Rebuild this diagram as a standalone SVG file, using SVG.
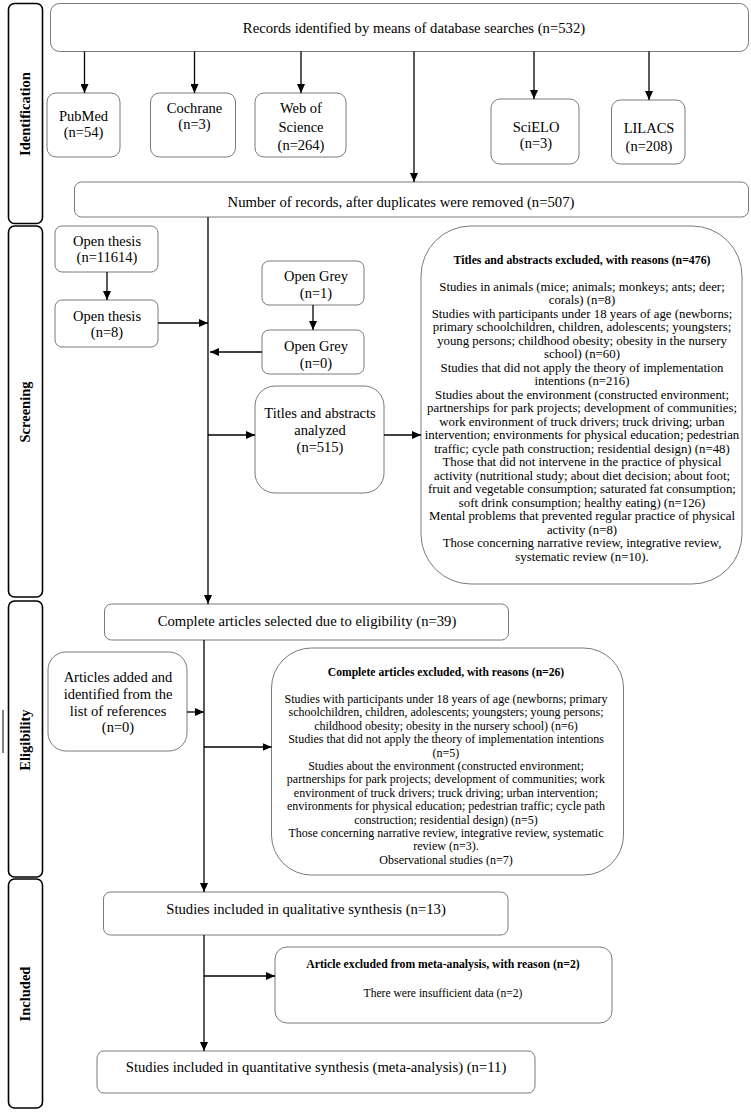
<svg xmlns="http://www.w3.org/2000/svg" width="751" height="1113" viewBox="0 0 751 1113">
<defs>
<marker id="ah" markerWidth="9" markerHeight="8" refX="9" refY="4" orient="auto" markerUnits="userSpaceOnUse">
<path d="M0,0 L9,4 L0,8 z" fill="#000"/>
</marker>
<style>
.bx{fill:#fff;stroke:#7a7a7a;stroke-width:1}
.side{fill:#fff;stroke:#000;stroke-width:1.6}
.t{font-family:"Liberation Serif","Times New Roman",serif;font-size:14.5px;fill:#000;text-anchor:middle}
.m{font-family:"Liberation Serif","Times New Roman",serif;font-size:14.7px;fill:#000;text-anchor:middle}
.s{font-family:"Liberation Serif","Times New Roman",serif;font-size:12.8px;fill:#000;text-anchor:middle}
.sb{font-family:"Liberation Serif","Times New Roman",serif;font-size:11.8px;font-weight:bold;fill:#000;text-anchor:middle}
.e{font-family:"Liberation Serif","Times New Roman",serif;font-size:12px;fill:#000;text-anchor:middle}
.eb{font-family:"Liberation Serif","Times New Roman",serif;font-size:11.6px;font-weight:bold;fill:#000;text-anchor:middle}
.mb{font-family:"Liberation Serif","Times New Roman",serif;font-size:11.7px;font-weight:bold;fill:#000;text-anchor:middle}
.me{font-family:"Liberation Serif","Times New Roman",serif;font-size:11.6px;fill:#000;text-anchor:middle}
.lab{font-family:"Liberation Serif","Times New Roman",serif;font-size:14.5px;font-weight:bold;fill:#000;text-anchor:middle}
.ca{stroke:#000;stroke-width:1.3;fill:none;marker-end:url(#ah)}
</style>
</defs>
<rect width="751" height="1113" fill="#fff"/>

<g id="lane-identification">
<rect class="side" x="8.5" y="3.5" width="34" height="220" rx="6"/>
<text class="lab" transform="translate(30,114) rotate(-90)">Identification</text>
</g>
<g id="lane-screening">
<rect class="side" x="8.5" y="226" width="34" height="371" rx="6"/>
<text class="lab" transform="translate(30,412) rotate(-90)">Screening</text>
</g>
<g id="lane-eligibility">
<rect class="side" x="8.5" y="601" width="34" height="276" rx="6"/>
<text class="lab" transform="translate(30,740) rotate(-90)">Eligibility</text>
<line x1="3" y1="710" x2="3" y2="753" stroke="#000" stroke-width="1"/>
</g>
<g id="lane-included">
<rect class="side" x="8.5" y="879" width="34" height="229" rx="6"/>
<text class="lab" transform="translate(30,994) rotate(-90)">Included</text>
</g>

<g id="records">
<rect class="bx" x="50.5" y="3.5" width="698" height="48" rx="9"/>
<text class="m" x="414" y="33">Records identified by means of database searches (n=532)</text>
</g>
<g id="pubmed">
<rect class="bx" x="47" y="93" width="73" height="64" rx="9"/>
<text class="t" x="83.5" y="121">PubMed</text>
<text class="t" x="83.5" y="137">(n=54)</text>
</g>
<g id="cochrane">
<rect class="bx" x="150.5" y="93" width="85" height="64" rx="9"/>
<text class="t" x="194.5" y="113">Cochrane</text>
<text class="t" x="194.5" y="129">(n=3)</text>
</g>
<g id="wos">
<rect class="bx" x="255" y="93" width="91" height="64" rx="9"/>
<text class="t" x="301" y="113">Web of</text>
<text class="t" x="301" y="131.5">Science</text>
<text class="t" x="301" y="150">(n=264)</text>
</g>
<g id="scielo">
<rect class="bx" x="491" y="99" width="88" height="65" rx="9"/>
<text class="t" x="536" y="132">SciELO</text>
<text class="t" x="536" y="148">(n=3)</text>
</g>
<g id="lilacs">
<rect class="bx" x="611.5" y="100" width="73.5" height="64" rx="9"/>
<text class="t" x="649" y="133">LILACS</text>
<text class="t" x="649" y="151">(n=208)</text>
</g>
<g id="dedup">
<rect class="bx" x="74.5" y="182" width="674" height="35" rx="7"/>
<text class="m" x="401" y="207">Number of records, after duplicates were removed (n=507)</text>
</g>

<g id="thesis1">
<rect class="bx" x="55" y="226" width="103" height="46" rx="7"/>
<text class="t" x="107" y="246">Open thesis</text>
<text class="t" x="107" y="262">(n=11614)</text>
</g>
<g id="thesis2">
<rect class="bx" x="55" y="300" width="103" height="47" rx="7"/>
<text class="t" x="107" y="321">Open thesis</text>
<text class="t" x="107" y="337">(n=8)</text>
</g>
<g id="grey1">
<rect class="bx" x="262" y="261" width="102" height="44" rx="7"/>
<text class="t" x="316" y="281">Open Grey</text>
<text class="t" x="316" y="298">(n=1)</text>
</g>
<g id="grey0">
<rect class="bx" x="262" y="330" width="102" height="44" rx="7"/>
<text class="t" x="316" y="351">Open Grey</text>
<text class="t" x="316" y="368">(n=0)</text>
</g>
<g id="titles-analyzed">
<rect class="bx" x="255" y="386" width="129" height="107" rx="20"/>
<text class="t" x="320" y="418">Titles and abstracts</text>
<text class="t" x="320" y="435">analyzed</text>
<text class="t" x="320" y="452">(n=515)</text>
</g>
<g id="titles-excluded">
<rect class="bx" x="421" y="226" width="321" height="358" rx="50"/>
<text class="sb" x="582" y="264">Titles and abstracts excluded, with reasons (n=476)</text>
<text class="s" x="582" y="290.5">Studies in animals (mice; animals; monkeys; ants; deer;</text>
<text class="s" x="582" y="304">corals) (n=8)</text>
<text class="s" x="582" y="317.5">Studies with participants under 18 years of age (newborns;</text>
<text class="s" x="582" y="331">primary schoolchildren, children, adolescents; youngsters;</text>
<text class="s" x="582" y="344.5">young persons; childhood obesity; obesity in the nursery</text>
<text class="s" x="582" y="358">school) (n=60)</text>
<text class="s" x="582" y="371.5">Studies that did not apply the theory of implementation</text>
<text class="s" x="582" y="385">intentions (n=216)</text>
<text class="s" x="582" y="398.5">Studies about the environment (constructed environment;</text>
<text class="s" x="582" y="412">partnerships for park projects; development of communities;</text>
<text class="s" x="582" y="425.5">work environment of truck drivers; truck driving; urban</text>
<text class="s" x="582" y="439">intervention; environments for physical education; pedestrian</text>
<text class="s" x="582" y="452.5">traffic; cycle path construction; residential design) (n=48)</text>
<text class="s" x="582" y="466">Those that did not intervene in the practice of physical</text>
<text class="s" x="582" y="479.5">activity (nutritional study; about diet decision; about foot;</text>
<text class="s" x="582" y="493">fruit and vegetable consumption; saturated fat consumption;</text>
<text class="s" x="582" y="506.5">soft drink consumption; healthy eating) (n=126)</text>
<text class="s" x="582" y="520">Mental problems that prevented regular practice of physical</text>
<text class="s" x="582" y="533.5">activity (n=8)</text>
<text class="s" x="582" y="547">Those concerning narrative review, integrative review,</text>
<text class="s" x="582" y="560.5">systematic review (n=10).</text>
</g>

<g id="complete-selected">
<rect class="bx" x="104.5" y="604" width="404" height="36" rx="7"/>
<text class="m" x="307" y="626">Complete articles selected due to eligibility (n=39)</text>
</g>
<g id="articles-added">
<rect class="bx" x="48" y="652" width="139" height="99" rx="18"/>
<text class="t" x="118" y="682">Articles added and</text>
<text class="t" x="118" y="699">identified from the</text>
<text class="t" x="118" y="716">list of references</text>
<text class="t" x="118" y="732">(n=0)</text>
</g>
<g id="complete-excluded">
<rect class="bx" x="271.5" y="648" width="352" height="227" rx="40"/>
<text class="eb" x="446" y="676">Complete articles excluded, with reasons (n=26)</text>
<text class="e" x="446" y="703">Studies with participants under 18 years of age (newborns; primary</text>
<text class="e" x="446" y="716.4">schoolchildren, children, adolescents; youngsters; young persons;</text>
<text class="e" x="446" y="729.8">childhood obesity; obesity in the nursery school) (n=6)</text>
<text class="e" x="446" y="743.2">Studies that did not apply the theory of implementation intentions</text>
<text class="e" x="446" y="756.6">(n=5)</text>
<text class="e" x="446" y="770">Studies about the environment (constructed environment;</text>
<text class="e" x="446" y="783.4">partnerships for park projects; development of communities; work</text>
<text class="e" x="446" y="796.8">environment of truck drivers; truck driving; urban intervention;</text>
<text class="e" x="446" y="810.2">environments for physical education; pedestrian traffic; cycle path</text>
<text class="e" x="446" y="823.6">construction; residential design) (n=5)</text>
<text class="e" x="446" y="837">Those concerning narrative review, integrative review, systematic</text>
<text class="e" x="446" y="850.4">review (n=3).</text>
<text class="e" x="446" y="863.8">Observational studies (n=7)</text>
</g>

<g id="qualitative">
<rect class="bx" x="103.5" y="892" width="404.5" height="43" rx="7"/>
<text class="m" x="306" y="914">Studies included in qualitative synthesis (n=13)</text>
</g>
<g id="meta-excluded">
<rect class="bx" x="275" y="947" width="337" height="76" rx="12"/>
<text class="mb" x="443" y="968">Article excluded from meta-analysis, with reason (n=2)</text>
<text class="me" x="443" y="997">There were insufficient data (n=2)</text>
</g>
<g id="quantitative">
<rect class="bx" x="97" y="1051" width="438" height="42" rx="7"/>
<text class="m" x="316" y="1072">Studies included in quantitative synthesis (meta-analysis) (n=11)</text>
</g>

<g id="connectors">
<line class="ca" x1="84.5" y1="51.5" x2="84.5" y2="93"/>
<line class="ca" x1="194.5" y1="51.5" x2="194.5" y2="93"/>
<line class="ca" x1="301" y1="51.5" x2="301" y2="93"/>
<line class="ca" x1="414" y1="51.5" x2="414" y2="182"/>
<line class="ca" x1="534" y1="51.5" x2="534" y2="99"/>
<line class="ca" x1="649" y1="51.5" x2="649" y2="100"/>
<line class="ca" x1="107" y1="272" x2="107" y2="300"/>
<line class="ca" x1="313" y1="305" x2="313" y2="330"/>
<line class="ca" x1="208" y1="217" x2="208" y2="604"/>
<line class="ca" x1="158" y1="323" x2="208" y2="323"/>
<line class="ca" x1="262" y1="352" x2="210" y2="352"/>
<line class="ca" x1="208" y1="435" x2="255" y2="435"/>
<line class="ca" x1="384" y1="435" x2="421" y2="435"/>
<line class="ca" x1="204" y1="640" x2="204" y2="892"/>
<line class="ca" x1="187" y1="712" x2="204" y2="712"/>
<line class="ca" x1="204" y1="747" x2="271.5" y2="747"/>
<line class="ca" x1="204" y1="935" x2="204" y2="1051"/>
<line class="ca" x1="204" y1="976" x2="275" y2="976"/>
</g>
</svg>
